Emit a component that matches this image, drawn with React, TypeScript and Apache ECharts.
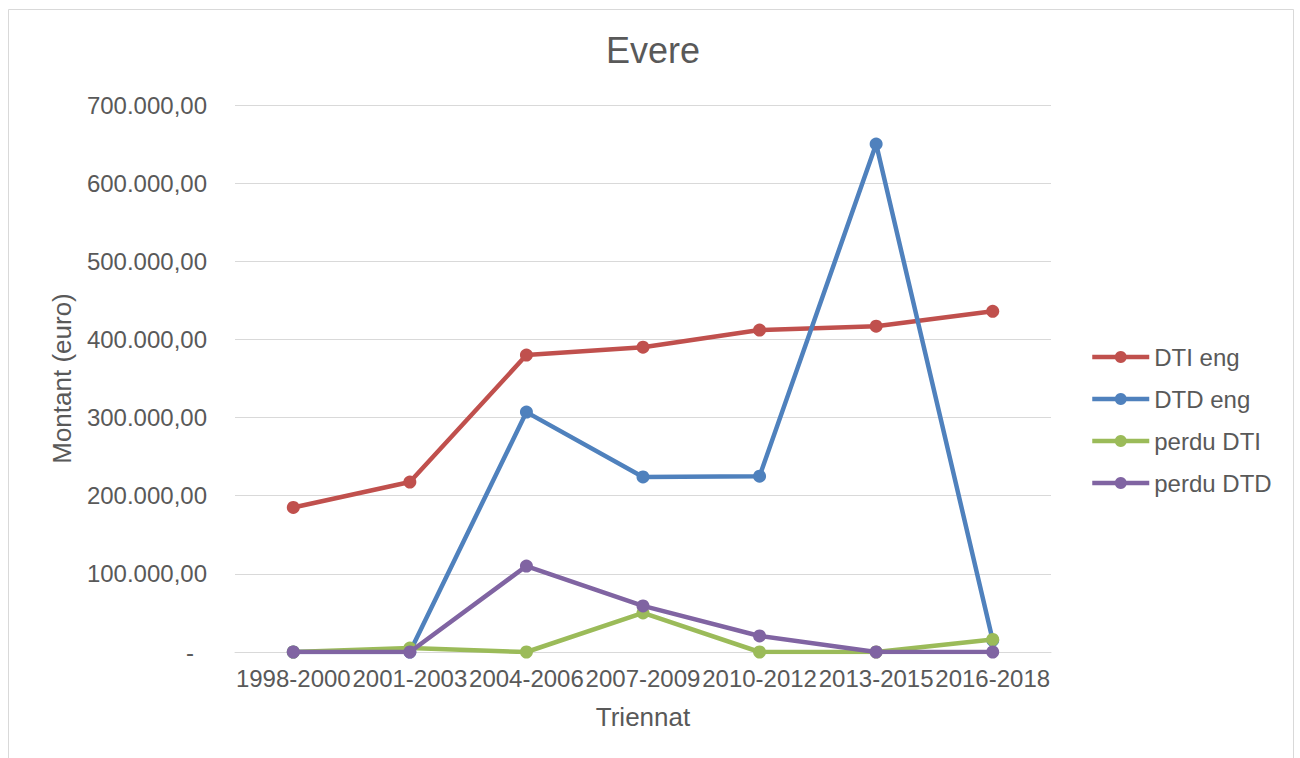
import React, { useEffect, useRef } from "react";
import * as echarts from "echarts";

const categories = ["1998-2000", "2001-2003", "2004-2006", "2007-2009", "2010-2012", "2013-2015", "2016-2018"];
const dtiEng = [185000, 217500, 380000, 390000, 412000, 417000, 436000];
const dtdEng = [0, 0, 307000, 224000, 225000, 650000, 15000];
const perduDTI = [0, 5000, 0, 50000, 0, 0, 16000];
const perduDTD = [0, 0, 110000, 59000, 20500, 0, 0];
const seriesNames = ["DTI eng", "DTD eng", "perdu DTI", "perdu DTD"];
const colors = ["#C0504D", "#4F81BD", "#9BBB59", "#8064A2"];

const fmt = (v: number) => {
  if (v === 0) return "{z|-}";
  const s = Math.round(v).toString().replace(/\B(?=(\d{3})+(?!\d))/g, ".");
  return s + ",00";
};

export default function App() {
  const ref = useRef<HTMLDivElement>(null);
  useEffect(() => {
    const chart = echarts.init(ref.current!, null, { renderer: "svg" });
    const font = "'Liberation Sans', Arial, sans-serif";
    const data = [dtiEng, dtdEng, perduDTI, perduDTD];
    chart.setOption({
      animation: false,
      backgroundColor: "#ffffff",
      textStyle: { fontFamily: font },
      title: {
        text: "Evere",
        left: 648,
        top: 27,
        textAlign: "center",
        textStyle: { fontSize: 36, fontWeight: "normal", color: "#595959", fontFamily: font },
      },
      graphic: [
        {
          type: "rect",
          shape: { x: 8.5, y: 9.5, width: 1285, height: 760 },
          style: { fill: "none", stroke: "#D9D9D9", lineWidth: 1 },
          silent: true,
        },
      ],
      legend: {
        orient: "vertical",
        left: 1090,
        top: 345,
        padding: 0,
        itemGap: 18,
        itemWidth: 57,
        itemHeight: 15,
        data: seriesNames,
        lineStyle: { width: 4.5 },
        textStyle: { fontSize: 24, color: "#595959", fontFamily: font },
      },
      grid: { left: 235, right: 249, top: 105, bottom: 106, containLabel: false },
      xAxis: {
        type: "category",
        data: categories,
        boundaryGap: true,
        name: "Triennat",
        nameLocation: "middle",
        nameGap: 52,
        nameTextStyle: { fontSize: 26, color: "#595959", fontFamily: font },
        axisLine: { show: true, lineStyle: { color: "#D9D9D9", width: 1 } },
        axisTick: { show: false },
        axisLabel: { fontSize: 24, color: "#595959", fontFamily: font, margin: 14, interval: 0 },
      },
      yAxis: {
        type: "value",
        min: 0,
        max: 700000,
        interval: 100000,
        name: "Montant (euro)",
        nameLocation: "middle",
        nameGap: 160,
        nameRotate: 90,
        nameTextStyle: { fontSize: 26, color: "#595959", fontFamily: font },
        axisLine: { show: false },
        axisTick: { show: false },
        splitLine: { lineStyle: { color: "#D9D9D9", width: 1 } },
        axisLabel: {
          fontSize: 24,
          color: "#595959",
          fontFamily: font,
          margin: 28,
          formatter: (v: number) => fmt(v),
          rich: { z: { fontSize: 24, color: "#595959", fontFamily: font, padding: [0, 13, 0, 0] } },
        },
      },
      series: seriesNames.map((name, i) => ({
        name,
        type: "line",
        data: data[i],
        symbol: "circle",
        symbolSize: 13,
        color: colors[i],
        lineStyle: { width: 4.5, color: colors[i] },
        itemStyle: { color: colors[i] },
        z: 2 + i,
      })),
    });
    return () => chart.dispose();
  }, []);
  return <div ref={ref} style={{ position: "absolute", left: 0, top: 0, width: 1300, height: 758 }} />;
}
